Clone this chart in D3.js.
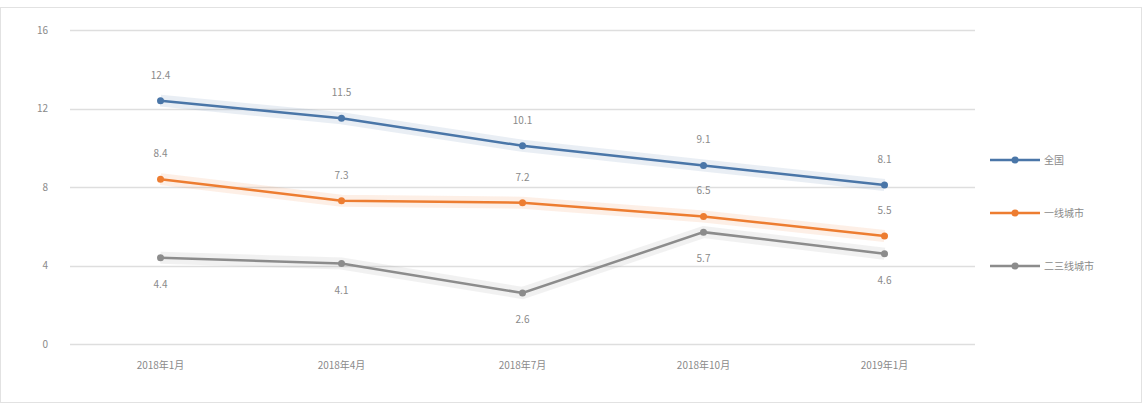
<!DOCTYPE html>
<html>
<head>
<meta charset="utf-8">
<script src="https://cdn.jsdelivr.net/npm/d3@7"></script>
<style>
  body { margin: 0; background: #fff; }
  text { font-family: "Noto Sans CJK SC", "Noto Sans", sans-serif; }
</style>
</head>
<body>
<svg id="chart" width="1142" height="403"></svg>
<script>
var categories = ["2018年1月", "2018年4月", "2018年7月", "2018年10月", "2019年1月"];
var seriesNames = ["全国", "一线城市", "二三线城市"];
var blueValues = [12.4, 11.5, 10.1, 9.1, 8.1];
var orangeValues = [8.4, 7.3, 7.2, 6.5, 5.5];
var grayValues = [4.4, 4.1, 2.6, 5.7, 4.6];
var yTicks = [0, 4, 8, 12, 16];

var COLORS = ["#4a76a8", "#ed7d31", "#8c8c8c"];
var margins = { top: 30, right: 167, bottom: 59, left: 70 };
var width = 1142, height = 403;
var chartWidth = width - margins.left - margins.right;
var chartHeight = height - margins.top - margins.bottom;

var series = [
  { name: seriesNames[0], values: blueValues, color: COLORS[0], labelDy: -22 },
  { name: seriesNames[1], values: orangeValues, color: COLORS[1], labelDy: -22 },
  { name: seriesNames[2], values: grayValues, color: COLORS[2], labelDy: 30 }
];

var svg = d3.select("#chart");

// outer frame
svg.append("rect")
  .attr("x", 0.5).attr("y", 7.5)
  .attr("width", width - 1).attr("height", height - 8)
  .attr("fill", "none").attr("stroke", "#e2e2e2");

var x = d3.scaleBand().domain(categories).range([0, chartWidth]);
var y = d3.scaleLinear().domain([0, 16]).range([chartHeight, 0]);

var g = svg.append("g")
  .attr("transform", "translate(" + margins.left + "," + margins.top + ")");

// gridlines
g.append("g")
  .selectAll("line")
  .data(yTicks)
  .join("line")
  .attr("x1", 0).attr("x2", chartWidth)
  .attr("y1", d => Math.round(y(d)) + 0.5)
  .attr("y2", d => Math.round(y(d)) + 0.5)
  .attr("stroke", "#dedede")
  .attr("stroke-width", 1.5);

// y axis labels
var yAxis = g.append("g")
  .call(d3.axisLeft(y).tickValues(yTicks).tickSize(0).tickPadding(22));
yAxis.select(".domain").remove();
yAxis.selectAll("text").attr("fill", "#8a8a8a").style("font-size", "10px");

// x axis labels
var xAxis = g.append("g")
  .attr("transform", "translate(0," + chartHeight + ")")
  .call(d3.axisBottom(x).tickSize(0).tickPadding(18));
xAxis.select(".domain").remove();
xAxis.selectAll("text").attr("fill", "#8a8a8a").style("font-size", "10px");

var cx = d => x(d) + x.bandwidth() / 2;

var line = d3.line()
  .x((d, i) => cx(categories[i]))
  .y(d => y(d));

series.forEach(function(s) {
  // soft glow
  g.append("path")
    .datum(s.values)
    .attr("d", line)
    .attr("fill", "none")
    .attr("stroke", s.color)
    .attr("stroke-opacity", 0.12)
    .attr("stroke-width", 12);

  g.append("path")
    .datum(s.values)
    .attr("d", line)
    .attr("fill", "none")
    .attr("stroke", s.color)
    .attr("stroke-width", 2.5);

  g.selectAll(null)
    .data(s.values)
    .join("circle")
    .attr("cx", (d, i) => cx(categories[i]))
    .attr("cy", d => y(d))
    .attr("r", 3.5)
    .attr("fill", s.color);

  g.selectAll(null)
    .data(s.values)
    .join("text")
    .attr("x", (d, i) => cx(categories[i]))
    .attr("y", d => y(d) + s.labelDy)
    .attr("text-anchor", "middle")
    .attr("fill", "#8a8a8a")
    .style("font-size", "10px")
    .text(d => d.toFixed(1));
});

// legend
var legend = svg.append("g")
  .attr("transform", "translate(990,160)");

var item = legend.selectAll("g")
  .data(series)
  .join("g")
  .attr("transform", (d, i) => "translate(0," + (i * 53) + ")");

item.append("line")
  .attr("x1", 0).attr("x2", 50)
  .attr("stroke", d => d.color)
  .attr("stroke-width", 2.5);

item.append("circle")
  .attr("cx", 25).attr("r", 3.5)
  .attr("fill", d => d.color);

item.append("text")
  .attr("x", 54).attr("y", 4)
  .attr("fill", "#8a8a8a")
  .style("font-size", "10px")
  .text(d => d.name);
</script>
</body>
</html>
